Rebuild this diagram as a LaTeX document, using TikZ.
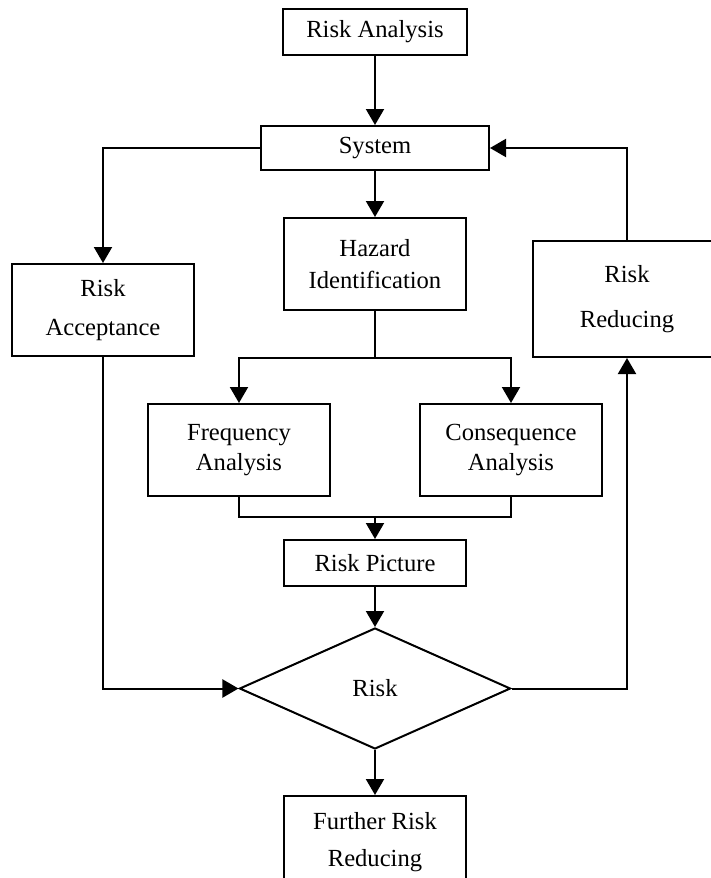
\documentclass[tikz,border=0pt]{standalone}
\usepackage{fontspec}
\setmainfont{Liberation Serif}
\usepackage{tikz}
\usetikzlibrary{positioning}
\usetikzlibrary{shapes.geometric}
\usetikzlibrary{arrows.meta}
\tikzset{box/.style = {draw, line width=1pt, align=center, text centered, minimum width=91pt, minimum height=46pt, font=\fontsize{12.3pt}{15pt}\selectfont}}
\tikzset{flat box/.style = {box, minimum height=23pt}}
\tikzset{decision/.style = {draw, line width=1pt, diamond, aspect=2.2, inner sep=0pt, minimum width=135.5pt, minimum height=60.5pt, font=\fontsize{12.3pt}{15pt}\selectfont}}
\tikzset{arr/.style = {line width=1pt, -{Triangle[width=9pt,length=8pt]}}}
\tikzset{line/.style = {line width=1pt}}

\begin{document}
\begin{tikzpicture}[auto,
  node distance = 20pt,
]
\clip (-187.5pt,16pt) rectangle (168pt,-423pt);

\node[flat box, minimum width=92pt] (ra) {Risk Analysis};
\node[flat box, minimum width=114pt, minimum height=22pt, below=34.5pt of ra] (sys) {System};
\node[box, below=23pt of sys] (haz) {Hazard\\[1pt]Identification};
\node[box, below=46pt of sys, xshift=-136pt] (racc) {Risk\\[4.5pt]Acceptance};
\node[box, minimum width=94pt, minimum height=58pt, below=34.5pt of sys, xshift=126pt] (rr) {Risk\\[7.5pt]Reducing};
\node[box, below=46pt of haz, xshift=-68pt] (freq) {Frequency\\Analysis};
\node[box, below=46pt of haz, xshift=68pt] (cons) {Consequence\\Analysis};
\node[flat box, below=114pt of haz] (rp) {Risk Picture};
\node[decision, below=20pt of rp] (risk) {Risk};
\node[box, below=22.5pt of risk] (fur) {Further Risk\\[3.5pt]Reducing};

% split and join points of the two analysis branches
\coordinate[below=23.5pt of haz] (split);
\coordinate[above=11pt of rp] (join);

\draw[arr]  (ra) -- (sys);
\draw[arr]  (sys) -- (haz);
\draw[arr]  (sys.west) -| (racc.north);
\draw[line] (haz) -- (split);
\draw[arr]  (split) -| (freq.north);
\draw[arr]  (split) -| (cons.north);
\draw[line] (freq.south) |- (join);
\draw[line] (cons.south) |- (join);
\draw[arr]  (join) -- (rp);
\draw[arr]  (rp) -- (risk);
\draw[arr]  (racc.south) |- (risk.west);
\draw[arr]  (risk.east) -| (rr.south);
\draw[arr]  (rr.north) |- (sys.east);
\draw[arr]  (risk) -- (fur);

\end{tikzpicture}
\end{document}
